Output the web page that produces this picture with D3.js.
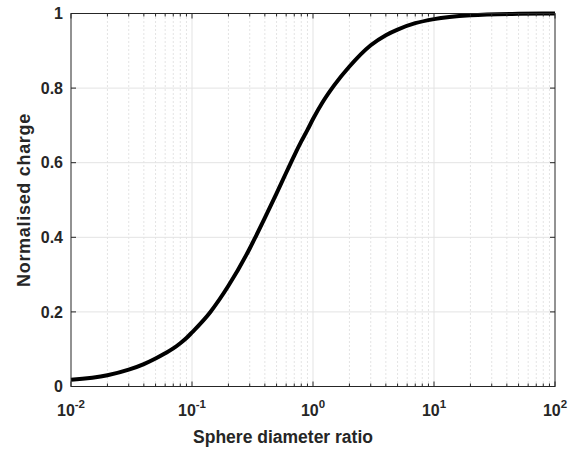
<!DOCTYPE html>
<html>
<head>
<meta charset="utf-8">
<script src="https://cdn.jsdelivr.net/npm/d3@7"></script>
<style>
  body { margin: 0; background: #fff; }
  svg text { font-family: "Liberation Sans", Arial, sans-serif; font-weight: bold; fill: #262626; }
</style>
</head>
<body>
<svg id="chart" width="577" height="449"></svg>
<script>
// values
const ratio  = [0.01, 0.02, 0.03, 0.04, 0.05, 0.06, 0.07, 0.08, 0.09, 0.1, 0.142, 0.2, 0.3, 0.334, 0.4, 0.5, 0.6, 0.657, 0.7, 0.8, 0.9, 1, 1.2, 1.5, 2, 3, 4, 5, 7, 10, 20, 50, 100]
const charge = [0.018, 0.030, 0.045, 0.060, 0.075, 0.089, 0.102, 0.116, 0.130, 0.145, 0.2, 0.270, 0.37, 0.4, 0.452, 0.518, 0.573, 0.6, 0.619, 0.657, 0.688, 0.717, 0.762, 0.808, 0.858, 0.915, 0.942, 0.957, 0.974, 0.985, 0.995, 0.999, 1]
const xTicks = [1e-2, 1e-1, 1e0, 1e1, 1e2]
const xTickExp = ['-2', '-1', '0', '1', '2']
const yTicks = [0, 0.2, 0.4, 0.6, 0.8, 1]
const yTickLabels = ['0', '0.2', '0.4', '0.6', '0.8', '1']

const margin = { left: 71, top: 13.5, right: 22, bottom: 62.5 }
const width = 577 - margin.left - margin.right
const height = 449 - margin.top - margin.bottom

const svg = d3.select('#chart')
const g = svg.append('g').attr('transform', `translate(${margin.left},${margin.top})`)

const x = d3.scaleLog().domain([1e-2, 1e2]).range([0, width])
const y = d3.scaleLinear().domain([0, 1]).range([height, 0])

// minor x positions 2..9 in each decade
const minor = []
for (let e = -2; e < 2; e++) for (let m = 2; m <= 9; m++) minor.push(m * Math.pow(10, e))

// grid
g.append('g').selectAll('line').data(minor).join('line')
    .attr('x1', d => x(d)).attr('x2', d => x(d))
    .attr('y1', 0).attr('y2', height)
    .attr('stroke', '#c8c8c8').attr('stroke-width', 1).attr('stroke-dasharray', '1,3')

g.append('g').selectAll('line').data(xTicks.slice(1, -1)).join('line')
    .attr('x1', d => x(d)).attr('x2', d => x(d))
    .attr('y1', 0).attr('y2', height)
    .attr('stroke', '#e3e3e3').attr('stroke-width', 1)

g.append('g').selectAll('line').data(yTicks.slice(1, -1)).join('line')
    .attr('y1', d => y(d)).attr('y2', d => y(d))
    .attr('x1', 0).attr('x2', width)
    .attr('stroke', '#e3e3e3').attr('stroke-width', 1)

// curve
const line = d3.line()
    .x((d, i) => x(ratio[i]))
    .y(d => y(d))
    .curve(d3.curveMonotoneX)

g.append('path')
    .attr('d', line(charge))
    .attr('fill', 'none')
    .attr('stroke', '#000')
    .attr('stroke-width', 4)

// box and ticks
const axisColor = '#262626'
g.append('rect').attr('width', width).attr('height', height)
    .attr('fill', 'none').attr('stroke', axisColor).attr('stroke-width', 1)

const ticks = g.append('g').attr('stroke', axisColor).attr('stroke-width', 1)
xTicks.forEach(t => {
    ticks.append('line').attr('x1', x(t)).attr('x2', x(t)).attr('y1', height).attr('y2', height - 5)
    ticks.append('line').attr('x1', x(t)).attr('x2', x(t)).attr('y1', 0).attr('y2', 5)
})
minor.forEach(t => {
    ticks.append('line').attr('x1', x(t)).attr('x2', x(t)).attr('y1', height).attr('y2', height - 3)
    ticks.append('line').attr('x1', x(t)).attr('x2', x(t)).attr('y1', 0).attr('y2', 3)
})
yTicks.forEach(t => {
    ticks.append('line').attr('y1', y(t)).attr('y2', y(t)).attr('x1', 0).attr('x2', 5)
    ticks.append('line').attr('y1', y(t)).attr('y2', y(t)).attr('x1', width).attr('x2', width - 5)
})

// tick labels
g.append('g').selectAll('text').data(yTicks).join('text')
    .attr('x', -8).attr('y', d => y(d)).attr('dy', '0.35em')
    .attr('text-anchor', 'end').style('font-size', '16px')
    .text((d, i) => yTickLabels[i])

const xl = g.append('g').selectAll('text').data(xTicks).join('text')
    .attr('x', d => x(d)).attr('y', height + 29)
    .attr('text-anchor', 'middle').style('font-size', '16px')
xl.append('tspan').text('10')
xl.append('tspan').attr('dy', -8).style('font-size', '11.5px').text((d, i) => xTickExp[i])

// axis titles
svg.append('text')
    .attr('x', 283).attr('y', 443)
    .attr('text-anchor', 'middle').style('font-size', '17.5px')
    .text('Sphere diameter ratio')

svg.append('text')
    .attr('transform', `translate(29.5,${margin.top + height / 2}) rotate(-90)`)
    .attr('text-anchor', 'middle').style('font-size', '18px').style('letter-spacing', '0.7px')
    .text('Normalised charge')
</script>
</body>
</html>
